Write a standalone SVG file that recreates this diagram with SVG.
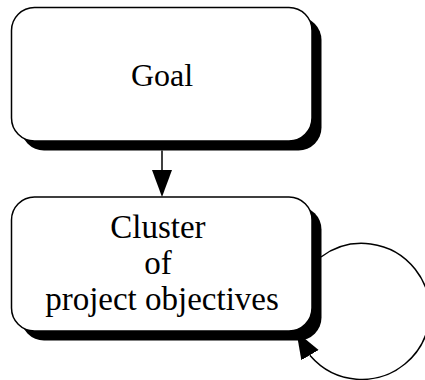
<svg xmlns="http://www.w3.org/2000/svg" width="425" height="380" viewBox="0 0 425 380">
  <style>
    .shadow { fill: #000; stroke: none; }
    .box { fill: #fff; stroke: #000; stroke-width: 1.5; }
    .lbl { font-family: "Liberation Serif", "Times New Roman", serif; fill: #000; text-anchor: middle; }
    .edge { fill: none; stroke: #000; stroke-width: 1.5; }
  </style>
  <defs>
    <marker id="arrow" markerUnits="userSpaceOnUse" markerWidth="30" markerHeight="24" viewBox="0 -12 30 24" refX="0" refY="0" orient="auto">
      <path d="M0,-10 L27,0 L0,10 Z" fill="#000"/>
    </marker>
  </defs>
  <rect width="425" height="380" fill="#fff"/>
  <g id="connectors">
    <path class="edge" d="M162,150.5 L162,170" marker-end="url(#arrow)"/>
    <path class="edge" stroke-width="1.3" d="M321,257 A68,68 0 1,1 310.5,356 l-0.5,-0.86" marker-end="url(#arrow)"/>
  </g>
  <g id="goal">
    <rect class="shadow" x="21" y="17" width="300.5" height="133.5" rx="23" ry="23"/>
    <rect class="box" x="11.5" y="7.5" width="300.5" height="133.5" rx="23" ry="23"/>
    <text class="lbl" x="162" y="86" font-size="32">Goal</text>
  </g>
  <g id="cluster">
    <rect class="shadow" x="21" y="206.5" width="300.5" height="134" rx="23" ry="23"/>
    <rect class="box" x="11.5" y="197" width="300.5" height="134" rx="23" ry="23"/>
    <text class="lbl" font-size="33">
      <tspan x="162" y="238">Cluster</tspan>
      <tspan x="162" y="274">of</tspan>
      <tspan x="162" y="310">project objectives</tspan>
    </text>
  </g>
</svg>
